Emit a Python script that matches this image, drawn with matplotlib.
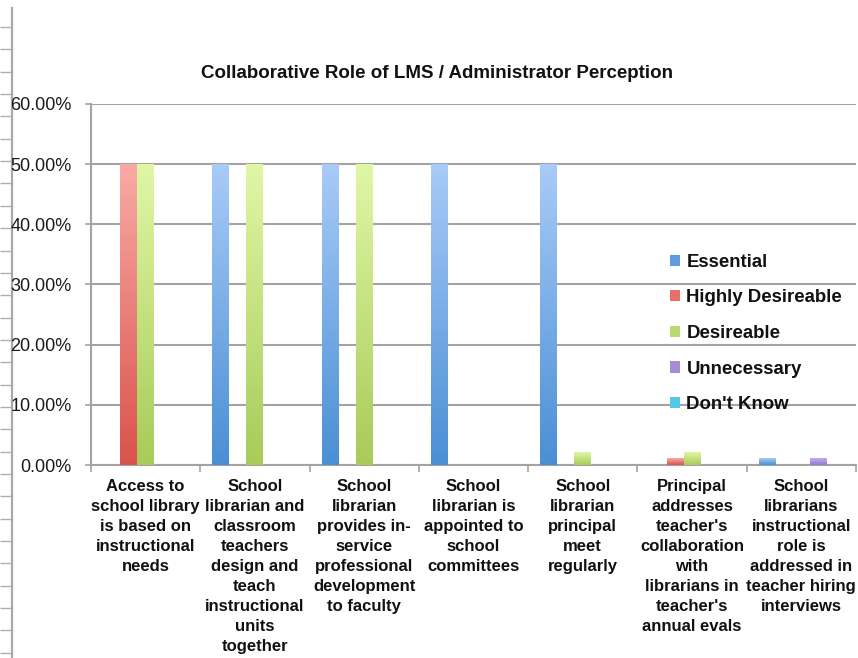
import numpy as np
import matplotlib
matplotlib.use("Agg")
import matplotlib.pyplot as plt
from matplotlib.colors import LinearSegmentedColormap
from matplotlib.patches import Patch

plt.rcParams['font.family'] = ['Liberation Sans', 'DejaVu Sans']

title = "Collaborative Role of LMS / Administrator Perception"
categories = [
    "Access to\nschool library\nis based on\ninstructional\nneeds",
    "School\nlibrarian and\nclassroom\nteachers\ndesign and\nteach\ninstructional\nunits\ntogether",
    "School\nlibrarian\nprovides in-\nservice\nprofessional\ndevelopment\nto faculty",
    "School\nlibrarian is\nappointed to\nschool\ncommittees",
    "School\nlibrarian\nprincipal\nmeet\nregularly",
    "Principal\naddresses\nteacher's\ncollaboration\nwith\nlibrarians in\nteacher's\nannual evals",
    "School\nlibrarians\ninstructional\nrole is\naddressed in\nteacher hiring\ninterviews",
]
series_names = ["Essential", "Highly Desireable", "Desireable", "Unnecessary", "Don't Know"]
essential = [0, 50, 50, 50, 50, 0, 1]
highly_desireable = [50, 0, 0, 0, 0, 1, 0]
desireable = [50, 50, 50, 0, 2, 2, 0]
unnecessary = [0, 0, 0, 0, 0, 0, 1]
dont_know = [0, 0, 0, 0, 0, 0, 0]
values = [essential, highly_desireable, desireable, unnecessary, dont_know]
y_ticks = [0, 10, 20, 30, 40, 50, 60]
y_tick_labels = ["0.00%", "10.00%", "20.00%", "30.00%", "40.00%", "50.00%", "60.00%"]

# (bottom colour, top colour, legend colour)
colors = [
    ("#4a8fd4", "#a9cbf8", "#5f9de0"),
    ("#d9534b", "#f9aaa6", "#e8706a"),
    ("#a8cb5a", "#e0f7a6", "#b9dc72"),
    ("#957bc9", "#c2acef", "#a48cd6"),
    ("#3fbfe0", "#9ee6f8", "#55c8e8"),
]

W, H = 858, 658
fig = plt.figure(figsize=(W / 100, H / 100), dpi=100)
fig.patch.set_facecolor("white")

# stray decorative axis at far left
axd = fig.add_axes([12 / W, 0, 0.001, (H - 8) / H])
axd.set_ylim(H, 8)
axd.set_xlim(0, 1)
for s in ["top", "right", "bottom"]:
    axd.spines[s].set_visible(False)
axd.spines["left"].set_color("#a8a8a8")
axd.spines["left"].set_linewidth(1.6)
axd.set_xticks([])
axd.set_yticks(np.arange(27, H, 22.35))
axd.tick_params(axis="y", length=9, width=1.0, color="#b0b0b0", labelleft=False)
axd.patch.set_alpha(0)

left, right, top, bottom = 91, 856, 104, 465
ax = fig.add_axes([left / W, (H - bottom) / H, (right - left) / W, (bottom - top) / H])
ax.set_xlim(-0.5, len(categories) - 0.5)
ax.set_ylim(0, 60)

n = len(series_names)
bw = 0.1555
x = np.arange(len(categories))
grad = np.linspace(0, 1, 256).reshape(-1, 1)
for i, (name, vals) in enumerate(zip(series_names, values)):
    cb, ct, cl = colors[i]
    cmap = LinearSegmentedColormap.from_list(name, [cb, ct])
    offs = x + (i - (n - 1) / 2) * bw
    bars = ax.bar(offs, vals, width=bw, color=cl, edgecolor="none", zorder=3)
    for b in bars:
        h = b.get_height()
        if h <= 0:
            continue
        bx = b.get_x()
        ax.imshow(grad, cmap=cmap, aspect="auto", origin="lower",
                  extent=(bx, bx + bw, 0, h), zorder=4, interpolation="bilinear")
ax.set_xlim(-0.5, len(categories) - 0.5)
ax.set_ylim(0, 60)

ax.set_yticks(y_ticks)
ax.set_yticklabels(y_tick_labels, fontsize=13, color="#1a1a1a")
ax.yaxis.grid(True, color="#a3a3a3", linewidth=1.5, zorder=1)
ax.set_axisbelow(True)
ax.tick_params(axis="y", length=4, width=1.2, color="#a3a3a3", pad=10)

ax.set_xticks(x)
ax.set_xticklabels(categories, fontsize=12, fontweight="bold", linespacing=1.42,
                   color="#111111", va="top")
ax.set_xticks(np.arange(-0.5, len(categories)), minor=True)
ax.tick_params(axis="x", which="major", length=0, pad=10)
ax.tick_params(axis="x", which="minor", length=5, width=1.2, color="#a3a3a3")

for s in ["top", "right"]:
    ax.spines[s].set_visible(False)
for s in ["left", "bottom"]:
    ax.spines[s].set_color("#a3a3a3")
    ax.spines[s].set_linewidth(1.5)

fig.text(437 / W, 1 - 73 / H, title, ha="center", va="center",
         fontsize=13.5, fontweight="bold", color="#111111")

handles = [Patch(facecolor=c[2], edgecolor="none") for c in colors]
leg = ax.legend(handles, series_names, loc="upper left", frameon=False,
                bbox_to_anchor=(653 / W, 1 - 237 / H), bbox_transform=fig.transFigure,
                prop={"weight": "bold", "size": 13.4}, handlelength=0.55, handleheight=0.55,
                handletextpad=0.35, labelspacing=1.0)
for t in leg.get_texts():
    t.set_color("#111111")

fig.savefig("out.png", dpi=100, facecolor="white")
